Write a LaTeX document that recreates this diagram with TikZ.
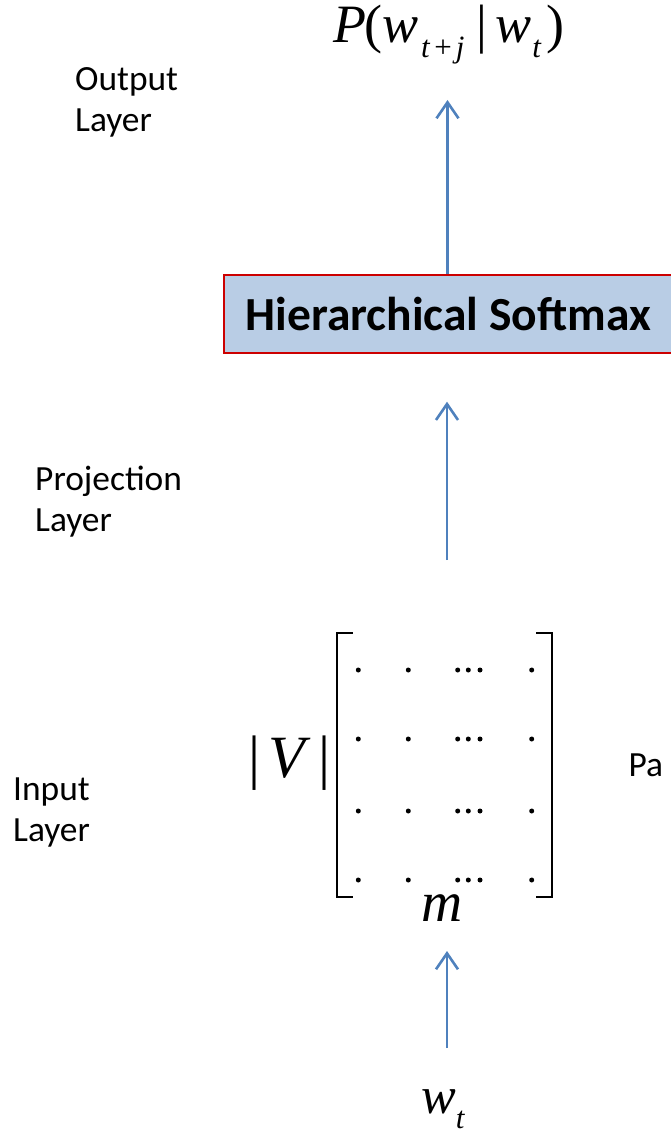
\documentclass[tikz,border=0pt]{standalone}
\usepackage{fontspec}
\setmainfont{Carlito}
\newfontfamily\tms{Liberation Serif}
\usetikzlibrary{arrows.meta}
\definecolor{arrowblue}{RGB}{79,129,189}
\definecolor{boxfill}{RGB}{185,205,229}
\definecolor{boxedge}{RGB}{204,0,0}
\newcommand{\subtxt}[1]{\raisebox{-15pt}{\fontsize{31}{31}\selectfont #1}}
\begin{document}
\begin{tikzpicture}[x=1pt,y=-1pt,
  layerlabel/.style={anchor=north west, align=left, inner sep=0pt, font=\fontsize{35.4}{41}\selectfont},
  flow/.style={draw=arrowblue, line width=2.6pt, -{Straight Barb[length=16pt,width=22pt]}},
  mathtext/.style={inner sep=0pt, anchor=base west},
  bracket/.style={line width=2pt, line cap=rect}
]
\useasboundingbox (0,0) rectangle (671,1129);

% layer labels
\node[layerlabel] (outlab)  at (75,67.5) {Output\\Layer};
\node[layerlabel] (projlab) at (35,466)  {Projection\\Layer};
\node[layerlabel] (inlab)   at (13,778)  {Input\\Layer};

% output probability
\node[mathtext, font=\tms\fontsize{54}{60}\selectfont] (pw) at (333,43)
  {\textit{P}\kern-2pt(\textit{w}\kern3pt\subtxt{\textit{t}\kern4pt+\kern4pt\textit{j}}\kern12pt|\kern8pt\textit{w}\kern1pt\subtxt{\textit{t}}\kern5pt)};

% softmax block
\node[draw=boxedge, line width=2pt, fill=boxfill, anchor=north west,
      minimum height=77.7pt, inner xsep=22pt,
      font=\bfseries\fontsize{47.5}{56}\selectfont] (hs) at (222.7,274) {Hierarchical Softmax};

% arrows
\coordinate (outtip)  at (447.5,100);
\coordinate (projbot) at (447,560);
\coordinate (projtip) at (447,401.7);
\coordinate (inbot)   at (447,1048);
\coordinate (intip)   at (447,951);
\draw[flow] (hs.north -| outtip) -- (outtip);
\draw[flow] (projbot) -- (projtip);
\draw[flow] (inbot) -- (intip);

% embedding matrix
\draw[bracket] (351.7,633) -- (336.7,633) -- (336.7,896.7) -- (351.7,896.7);
\draw[bracket] (536.7,633) -- (551.7,633) -- (551.7,896.7) -- (536.7,896.7);
\foreach \yy in {670,739,811,880}
  \foreach \xx in {358.3,408.3,457.7,468.3,480,531.7}
    \fill (\xx,\yy) circle (2.5pt);

\node[mathtext, font=\tms\fontsize{60}{60}\selectfont] (vsize) at (248,777) {|\kern8pt\textit{V}\kern8pt|};
\node[mathtext, font=\tms\itshape\fontsize{57}{57}\selectfont] (mdim) at (421,921.7) {m};
\node[anchor=base west, inner sep=0pt, font=\fontsize{35.4}{41}\selectfont] (param) at (628.3,776.7) {Pa};

% input word
\node[mathtext, font=\tms\fontsize{52}{52}\selectfont] (wt) at (421,1113)
  {\textit{w}\subtxt{\textit{t}}};
\end{tikzpicture}
\end{document}
